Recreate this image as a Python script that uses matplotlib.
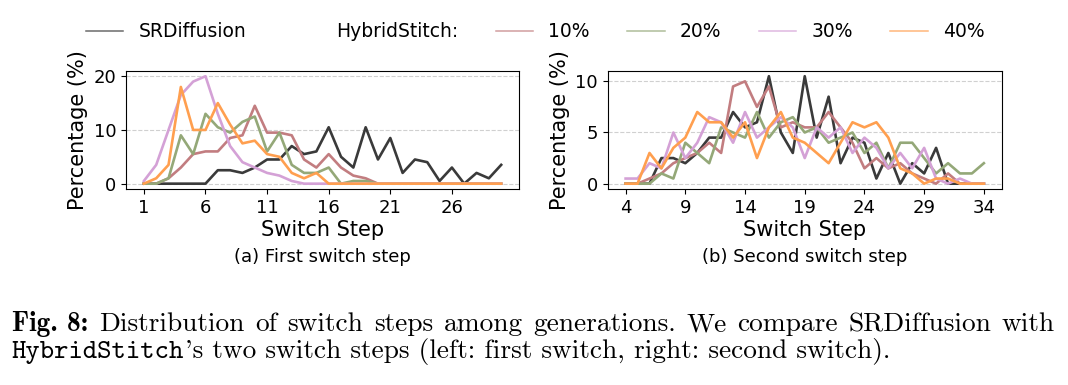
import matplotlib
matplotlib.use("Agg")
import matplotlib.pyplot as plt
from matplotlib.lines import Line2D
import numpy as np

# first switch step (x = 1..30)
steps_a = np.arange(1, 31)
srd_a = [0, 0, 0, 0, 0, 0, 2.5, 2.5, 2, 3, 4.5, 4.5, 7, 5.5, 6, 10.5, 5, 3, 10.5, 4.5,
         8.5, 2, 4.5, 4, 0.5, 3, 0, 2, 1, 3.5]
hs10_a = [0, 0, 1, 3, 5.5, 6, 6, 8.5, 9, 14.5, 9.5, 9.5, 9, 4.5, 3, 5.5, 3, 1.5, 1, 0,
          0, 0, 0, 0, 0, 0, 0, 0, 0, 0]
hs20_a = [0, 0, 1, 9, 5.5, 13, 10.5, 9.5, 11.5, 12.5, 6, 9.5, 3.5, 2, 2, 3, 0, 0.5, 0.5, 0,
          0, 0, 0, 0, 0, 0, 0, 0, 0, 0]
hs30_a = [0.5, 3.5, 10, 16.5, 19, 20, 13, 7, 4, 3, 2, 1.5, 0.5, 0, 0, 0, 0, 0, 0, 0,
          0, 0, 0, 0, 0, 0, 0, 0, 0, 0]
hs40_a = [0, 1, 3.5, 18, 10, 10, 15, 11, 7.5, 8, 5.5, 5, 2, 1, 2, 0, 0, 0, 0, 0,
          0, 0, 0, 0, 0, 0, 0, 0, 0, 0]

# second switch step (x = 4..34)
steps_b = np.arange(4, 35)
srd_b = [0, 0, 0, 2.5, 2.5, 2, 3, 4.5, 4.5, 7, 5.5, 6, 10.5, 5, 3, 10.5, 4.5, 8.5, 2, 4.5,
         4, 0.5, 3, 0, 2, 1, 3.5, 0, 0, 0, 0]
hs10_b = [0, 0, 0.5, 1, 2, 2.5, 3, 4, 3, 9.5, 10, 7.5, 9.5, 5.5, 6, 5.5, 5.5, 7, 5.5, 4,
          1.5, 2.5, 1.5, 2, 1, 0.5, 0, 1, 0, 0, 0]
hs20_b = [0, 0, 0, 1, 0.5, 4, 3, 2, 5.5, 5, 4.5, 7, 4.5, 6, 6.5, 5, 5.5, 4, 4.5, 5,
          3, 4, 1.5, 4, 4, 2.5, 1, 2, 1, 1, 2]
hs30_b = [0.5, 0.5, 2, 1.5, 5, 2.5, 4, 6.5, 6, 4, 7, 4.5, 5.5, 6.5, 5.5, 2.5, 5.5, 4.5, 5.5, 3,
          4.5, 3.5, 1.5, 3, 1.5, 3.5, 0.5, 0, 0.5, 0, 0]
hs40_b = [0, 0, 3, 1.5, 3.5, 4.5, 7, 6, 6, 4.5, 6, 2.5, 5.5, 7, 4.5, 4, 3, 2, 4, 6,
          5.5, 6, 4.5, 1.5, 1, 0, 0.5, 0.5, 0, 0, 0]

colors = {'srd': '#3a3a3a', '10': '#c27d80', '20': '#94a878', '30': '#d4a1d6', '40': '#ff9f4f'}
lw = 1.9

fig = plt.figure(figsize=(10.68, 3.85), dpi=100)
ax1 = fig.add_axes([0.118, 0.509, 0.368, 0.307])
ax2 = fig.add_axes([0.569, 0.509, 0.369, 0.307])

for ax, x, series in [
    (ax1, steps_a, [srd_a, hs10_a, hs20_a, hs30_a, hs40_a]),
    (ax2, steps_b, [srd_b, hs10_b, hs20_b, hs30_b, hs40_b]),
]:
    for key, y in zip(['srd', '10', '20', '30', '40'], series):
        ax.plot(x, y, color=colors[key], lw=lw)
    ax.yaxis.grid(True, linestyle='--', color='#d0d0d0', lw=0.8)
    ax.set_axisbelow(True)
    ax.set_xlabel('Switch Step', fontsize=15, labelpad=2)
    ax.set_ylabel('Percentage (%)', fontsize=15)
    ax.tick_params(labelsize=13)

ax1.set_xticks([1, 6, 11, 16, 21, 26])
ax1.set_yticks([0, 10, 20])
ax2.set_xticks([4, 9, 14, 19, 24, 29, 34])
ax2.set_yticks([0, 5, 10])

fig.text(0.302, 0.332, '(a) First switch step', ha='center', va='center', fontsize=13)
fig.text(0.7535, 0.332, '(b) Second switch step', ha='center', va='center', fontsize=13)

# legend with a label-only entry for HybridStitch
handles = [
    Line2D([], [], color=colors['srd'], lw=1.1, alpha=0.75),
    Line2D([], [], color='none'),
    Line2D([], [], color=colors['10'], lw=1.1, alpha=0.75),
    Line2D([], [], color=colors['20'], lw=1.1, alpha=0.75),
    Line2D([], [], color=colors['30'], lw=1.1, alpha=0.75),
    Line2D([], [], color=colors['40'], lw=1.1, alpha=0.75),
]
labels = ['SRDiffusion', 'HybridStitch:', '10%', '20%', '30%', '40%']
fig.legend(handles, labels, loc='center', bbox_to_anchor=(0.501, 0.917), ncol=6,
           frameon=False, fontsize=13.5)

# caption, built from pieces in different computer-modern fonts
cap_size = 19.7
renderer = fig.canvas.get_renderer()
W = fig.bbox.width


def put(x, y, s, family):
    t = fig.text(x, y, s, family=family, fontsize=cap_size, va='baseline')
    return t, t.get_window_extent(renderer=renderer).width / W


y1 = 1 - 331 / 385
y2 = 1 - 358 / 385

# line 1 is justified to the full text width
words = [('Fig. 8:', 'cmb10')] + [(w, 'cmr10') for w in
         'Distribution of switch steps among generations. We compare SRDiffusion with'.split()]
pieces = [put(0, y1, w, f) for w, f in words]
left, right = 12 / W, 1055 / W
gap = (right - left - sum(p[1] for p in pieces)) / (len(pieces) - 1)
x = left
for t, w in pieces:
    t.set_x(x)
    x += w + gap

t, w = put(0.011, y2, 'HybridStitch', 'cmtt10')
put(0.011 + w + 0.5 / W, y2, "'s two switch steps (left: first switch, right: second switch).", 'cmr10')

fig.savefig('out.png', dpi=100)
